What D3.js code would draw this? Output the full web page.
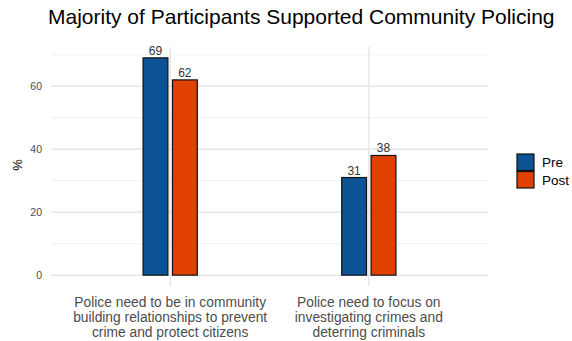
<!DOCTYPE html>
<html>
<head>
<meta charset="utf-8">
<script src="https://cdn.jsdelivr.net/npm/d3@7"></script>
<style>
  body { margin: 0; background: #fff; }
  text { font-family: "Liberation Sans", Arial, sans-serif; }
</style>
</head>
<body>
<div id="chart"></div>
<script>
var categories = [
  ["Police need to be in community", "building relationships to prevent", "crime and protect citizens"],
  ["Police need to focus on", "investigating crimes and", "deterring criminals"]
];
var groups = ["Pre", "Post"];
var preValues = [69, 31];
var postValues = [62, 38];
var yTicks = [0, 20, 40, 60];
var yMinor = [10, 30, 50, 70];

var svgWidth = 572;
var svgHeight = 341;
var margin = { top: 47, right: 84, bottom: 55, left: 51 };
var chartWidth = svgWidth - margin.left - margin.right;
var chartHeight = svgHeight - margin.top - margin.bottom;

var colors = { Pre: "#0B5394", Post: "#E04000" };

var svg = d3.select("#chart").append("svg")
  .attr("width", svgWidth)
  .attr("height", svgHeight);

var chartGroup = svg.append("g")
  .attr("transform", `translate(${margin.left},${margin.top})`);

var records = categories.map(function(c, i) {
  return { idx: i, Pre: preValues[i], Post: postValues[i] };
});

// ggplot-like expansion
var yMax = d3.max(preValues.concat(postValues));
var yScale = d3.scaleLinear()
  .domain([-0.05 * yMax, 1.05 * yMax])
  .range([chartHeight, 0]);

var xScale = d3.scaleLinear()
  .domain([0.4, categories.length + 0.6])
  .range([0, chartWidth]);

var slot = 0.148;
var barW = 0.125;

// grid
chartGroup.selectAll("line.minor").data(yMinor).enter().append("line")
  .attr("x1", 0).attr("x2", chartWidth)
  .attr("y1", d => yScale(d)).attr("y2", d => yScale(d))
  .attr("stroke", "#f0f0f0").attr("stroke-width", 1);
chartGroup.selectAll("line.major").data(yTicks).enter().append("line")
  .attr("x1", 0).attr("x2", chartWidth)
  .attr("y1", d => yScale(d)).attr("y2", d => yScale(d))
  .attr("stroke", "#e6e6e6").attr("stroke-width", 1.5);
chartGroup.selectAll("line.vmajor").data(records).enter().append("line")
  .attr("x1", d => xScale(d.idx + 1)).attr("x2", d => xScale(d.idx + 1))
  .attr("y1", 0).attr("y2", chartHeight)
  .attr("stroke", "#e6e6e6").attr("stroke-width", 1.5);

// y axis labels
chartGroup.selectAll("text.ytick").data(yTicks).enter().append("text")
  .attr("x", -9).attr("y", d => yScale(d) + 3.8)
  .attr("text-anchor", "end")
  .style("font-size", "10.5px")
  .attr("fill", "#4d4d4d")
  .text(d => d);

svg.append("text")
  .attr("transform", `translate(22,${margin.top + yScale(35)}) rotate(-90)`)
  .attr("text-anchor", "middle")
  .style("font-size", "13px")
  .attr("fill", "#000")
  .text("%");

// bars
groups.forEach(function(g, gi) {
  var offset = (gi - 0.5) * slot;
  var bars = chartGroup.selectAll("g.bar-" + g).data(records).enter().append("g");
  bars.append("rect")
    .attr("x", d => xScale(d.idx + 1 + offset - barW / 2))
    .attr("width", xScale(barW) - xScale(0))
    .attr("y", d => yScale(d[g]))
    .attr("height", d => yScale(0) - yScale(d[g]))
    .attr("fill", colors[g])
    .attr("stroke", "#111")
    .attr("stroke-width", 1.2);
  bars.append("text")
    .attr("x", d => xScale(d.idx + 1 + offset))
    .attr("y", d => yScale(d[g]) - 3)
    .attr("text-anchor", "middle")
    .style("font-size", "12px")
    .attr("fill", "#333")
    .text(d => d[g]);
});

// x labels
var xl = chartGroup.selectAll("text.xlab").data(records).enter().append("text")
  .attr("text-anchor", "middle")
  .style("font-size", "13.8px")
  .attr("fill", "#4d4d4d");
xl.each(function(d) {
  var t = d3.select(this);
  categories[d.idx].forEach(function(line, li) {
    t.append("tspan")
      .attr("x", xScale(d.idx + 1))
      .attr("y", chartHeight + 21 + li * 14.8)
      .text(line);
  });
});

// title
svg.append("text")
  .attr("x", 48).attr("y", 24)
  .style("font-size", "21px")
  .attr("fill", "#000")
  .text("Majority of Participants Supported Community Policing");

// legend
var legend = svg.append("g").attr("transform", "translate(517,154)");
groups.forEach(function(g, gi) {
  legend.append("rect")
    .attr("x", 0).attr("y", gi * 17.5)
    .attr("width", 17).attr("height", 16.5)
    .attr("fill", colors[g])
    .attr("stroke", "#111").attr("stroke-width", 1.2);
  legend.append("text")
    .attr("x", 25).attr("y", gi * 17.5 + 13)
    .style("font-size", "13.5px")
    .attr("fill", "#000")
    .text(g);
});
</script>
</body>
</html>
